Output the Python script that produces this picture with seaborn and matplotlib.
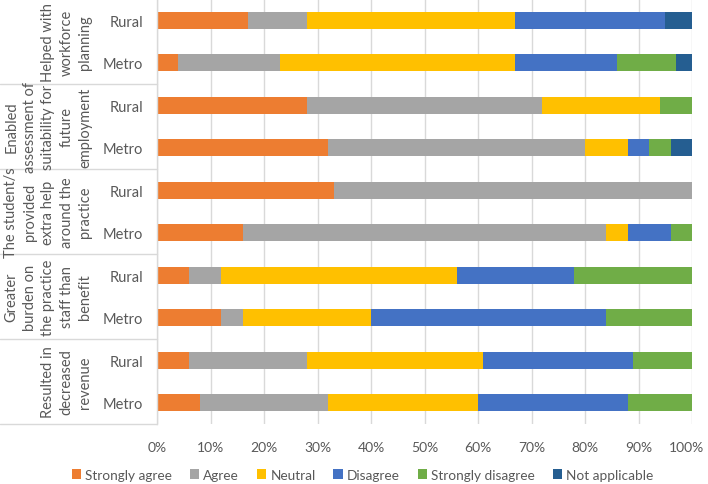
import matplotlib
matplotlib.use("Agg")
import matplotlib.pyplot as plt
from matplotlib.patches import Patch
from matplotlib.transforms import blended_transform_factory, ScaledTranslation
import seaborn as sns
import pandas as pd

sns.set_theme(style="white")
plt.rcParams["font.family"] = ["Lato", "DejaVu Sans"]

# --- data (percent of respondents) ---
statements = [
    "Helped with\nworkforce\nplanning",
    "Enabled\nassessment of\nsuitability for\nfuture\nemployment",
    "The student/s\nprovided\nextra help\naround the\npractice",
    "Greater\nburden on\nthe practice\nstaff than\nbenefit",
    "Resulted in\ndecreased\nrevenue",
]
locations = ["Rural", "Metro"]
responses = ["Strongly agree", "Agree", "Neutral", "Disagree",
             "Strongly disagree", "Not applicable"]
colors = ["#ED7D31", "#A5A5A5", "#FFC000", "#4472C4", "#70AD47", "#255E91"]

# one value per bar, top to bottom (Rural, Metro for each statement)
strongly_agree = [17, 4, 28, 32, 33, 16, 6, 12, 6, 8]
agree = [11, 19, 44, 48, 67, 68, 6, 4, 22, 24]
neutral = [39, 44, 22, 8, 0, 4, 44, 24, 33, 28]
disagree = [28, 19, 0, 4, 0, 8, 22, 44, 28, 28]
strongly_disagree = [0, 11, 6, 4, 0, 4, 22, 16, 11, 12]
not_applicable = [5, 3, 0, 4, 0, 0, 0, 0, 0, 0]

series = [strongly_agree, agree, neutral, disagree, strongly_disagree, not_applicable]
row_ids = [f"r{i}" for i in range(len(statements) * len(locations))]
row_labels = locations * len(statements)

df = pd.DataFrame({r: v for r, v in zip(responses, series)}, index=row_ids)
cum = df.cumsum(axis=1)

text_col = "#595959"
grid_col = "#D9D9D9"

fig = plt.figure(figsize=(7.08, 4.85), dpi=100)
ax = fig.add_axes([157 / 708, 60 / 485, 535 / 708, 425 / 485])

# stacked bars: draw cumulative totals from the last level back to the first
for resp, col in reversed(list(zip(responses, colors))):
    plot_df = pd.DataFrame({"row": row_ids, "value": cum[resp].values})
    sns.barplot(data=plot_df, x="value", y="row", order=row_ids, color=col,
                width=0.4, saturation=1, linewidth=0, ax=ax)

ax.set_xlim(0, 100)
ax.set_ylim(len(row_ids) - 0.5, -0.5)
ax.set_xticks(range(0, 101, 10))
ax.set_xticklabels([f"{t}%" for t in range(0, 101, 10)])
ax.set_yticks(range(len(row_ids)))
ax.set_yticklabels(row_labels)
ax.set_xlabel("")
ax.set_ylabel("")
ax.set_axisbelow(True)
ax.xaxis.grid(True, color=grid_col, linewidth=1)
ax.tick_params(axis="x", length=0, pad=12, labelsize=10, labelcolor=text_col)
ax.tick_params(axis="y", length=0, pad=10, labelsize=10.5, labelcolor=text_col)
for s in ["top", "right", "bottom"]:
    ax.spines[s].set_visible(False)
ax.spines["left"].set_color(grid_col)
ax.spines["left"].set_linewidth(1)

# keep the last tick label inside the picture, as the reference does
last = ax.get_xticklabels()[-1]
last.set_transform(last.get_transform() + ScaledTranslation(-6 / 100, 0, fig.dpi_scale_trans))

# multi-level category axis: group lines and rotated statement labels
trans = blended_transform_factory(ax.transAxes, ax.transData)
x_left = -157 / 535
for b in [1.5, 3.5, 5.5, 7.5, 9.5]:
    ax.plot([x_left, 0], [b, b], color=grid_col, linewidth=1,
            transform=trans, clip_on=False)
for i, st in enumerate(statements):
    ax.text((92 - 157) / 535, 2 * i + 0.5, st, transform=trans, rotation=90,
            ha="right", va="center", multialignment="center",
            fontsize=10.5, color=text_col, linespacing=1.4)

handles = [Patch(facecolor=c, edgecolor="none") for c in colors]
fig.legend(handles, responses, loc="center", bbox_to_anchor=(0.512, 9 / 485),
           ncol=6, frameon=False, fontsize=9.8, labelcolor=text_col,
           handlelength=0.7, handleheight=0.7, handletextpad=0.3,
           columnspacing=1.3, borderpad=0.2)

fig.savefig("out.png", dpi=100)
